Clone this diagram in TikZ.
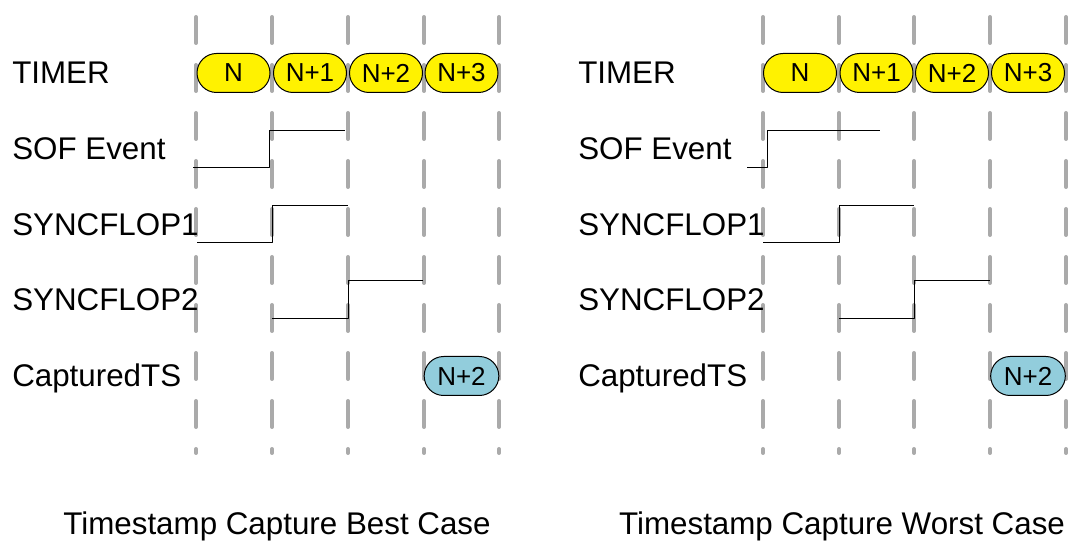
\documentclass[tikz,border=0pt]{standalone}
\usepackage{fontspec}
\setmainfont{Liberation Sans}
\usetikzlibrary{shapes.misc}
\definecolor{tickgray}{RGB}{170,170,170}
\definecolor{tsblue}{RGB}{146,205,220}
\tikzset{
  every picture/.style={line join=round, line cap=round},
  clockline/.style={draw=tickgray, line width=3pt, dash pattern=on 19.5pt off 16.5pt},
  wave/.style={draw=black, line width=0.75pt, line cap=butt},
  lbl/.style={inner sep=0pt, font=\fontsize{23.5}{28}\selectfont},
  caption/.style={inner sep=0pt, font=\fontsize{23.5}{28}\selectfont},
  tick/.style={rounded rectangle, draw=black, line width=0.75pt, fill=yellow,
    minimum width=54.75pt, minimum height=29.25pt, inner sep=0pt,
    font=\fontsize{19.5}{23}\selectfont},
  capts/.style={tick, fill=tsblue, minimum width=56pt},
}
\begin{document}
\begin{tikzpicture}[x=0.75pt,y=-0.75pt]
\useasboundingbox (0,0) rectangle (1068,541);
\foreach \x in {196,272,348,424,499,763,839,914,990,1066}
  \draw[clockline] (\x,17) -- (\x,453);
\node[lbl,anchor=base west] (timerA) at (12,84) {TIMER};
\node[lbl,anchor=base west] (sofA) at (12,160) {SOF Event};
\node[lbl,anchor=base west] (syncA) at (12,236) {SYNCFLOP1};
\node[lbl,anchor=base west] (syncB) at (12,311) {SYNCFLOP2};
\node[lbl,anchor=base west] (capA) at (12,387) {CapturedTS};
\node[lbl,anchor=base west] (timerB) at (578,84) {TIMER};
\node[lbl,anchor=base west] (sofB) at (578,160) {SOF Event};
\node[lbl,anchor=base west] (syncC) at (578,236) {SYNCFLOP1};
\node[lbl,anchor=base west] (syncD) at (578,311) {SYNCFLOP2};
\node[lbl,anchor=base west] (capB) at (578,387) {CapturedTS};
\foreach \cx/\nm/\txt in {233.5/tA/N,310/tB/N+1,386/tC/N+2,461.5/tD/N+3,
  800/tE/N,876.5/tF/N+1,952/tG/N+2,1028/tH/N+3}
  \node[tick] (\nm) at (\cx,73) {\txt};
\node[capts] (tsA) at (461.5,376) {N+2};
\node[capts] (tsB) at (1028,376) {N+2};
\draw[wave] (193,168)--(269,168)--(269,131)--(345,131);
\draw[wave] (197,243)--(272,243)--(272,206)--(348,206);
\draw[wave] (272,319)--(348,319)--(348,281)--(423,281);
\draw[wave] (747,168)--(767,168)--(767,131)--(880,131);
\draw[wave] (763,243)--(839,243)--(839,206)--(914,206);
\draw[wave] (839,319)--(914,319)--(914,281)--(990,281);
\node[caption,anchor=base] (bestcap) at (277,534) {Timestamp Capture Best Case};
\node[caption,anchor=base] (worstcap) at (842,534) {Timestamp Capture Worst Case};
\end{tikzpicture}
\end{document}
